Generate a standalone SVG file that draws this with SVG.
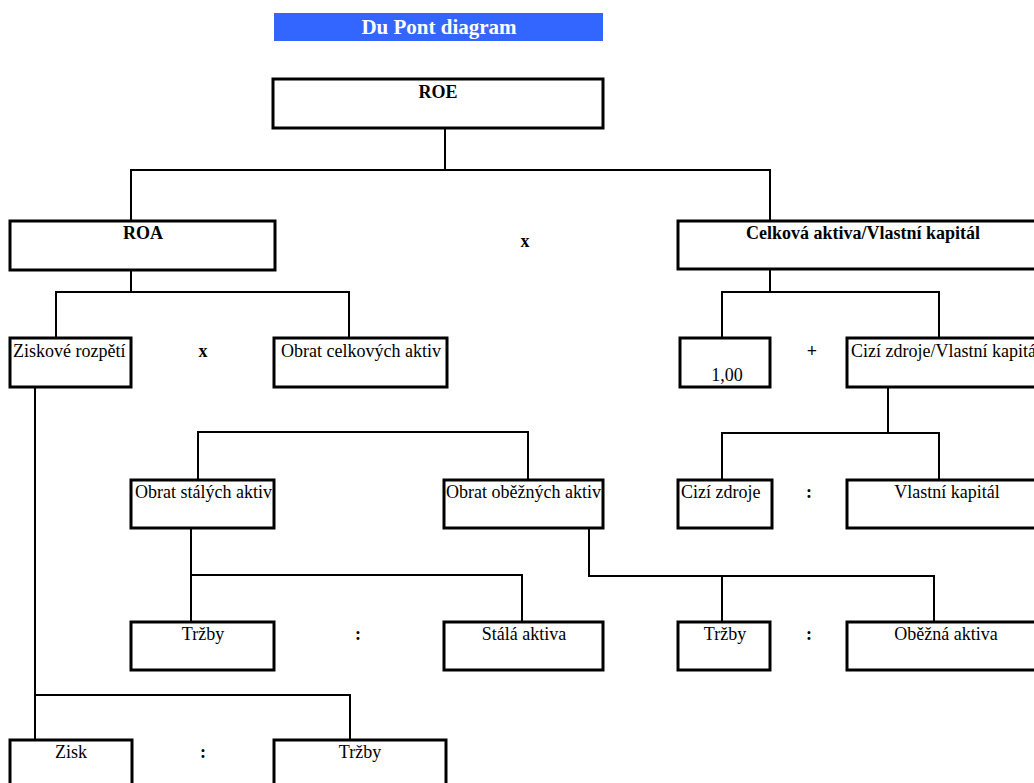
<svg xmlns="http://www.w3.org/2000/svg" width="1034" height="783" viewBox="0 0 1034 783">
<style>
.box{fill:#fff;stroke:#000;stroke-width:3}
.c{fill:none;stroke:#000;stroke-width:2}
text{font-family:"Liberation Serif","Times New Roman",serif;font-size:18px;fill:#000}
.b{font-weight:bold}
.m{text-anchor:middle}
.t{font-size:21px;font-weight:bold;fill:#fff;text-anchor:middle}
</style>
<rect width="1034" height="783" fill="#fff"/>
<g id="title">
<rect x="274" y="13" width="329" height="28" fill="#3366ff"/>
<text class="t" x="439" y="34">Du Pont diagram</text>
</g>
<g id="connectors">
<polyline class="c" points="445,128 445,170"/>
<polyline class="c" points="131,221 131,170 770,170 770,221"/>
<polyline class="c" points="131,270 131,292"/>
<polyline class="c" points="56,338 56,292 349,292 349,338"/>
<polyline class="c" points="770,269 770,292"/>
<polyline class="c" points="722,338 722,292 939,292 939,338"/>
<polyline class="c" points="888,387 888,433"/>
<polyline class="c" points="722,480 722,433 939,433 939,480"/>
<polyline class="c" points="198,480 198,432 528,432 528,480"/>
<polyline class="c" points="191,526 191,575"/>
<polyline class="c" points="191,622 191,575 522,575 522,622"/>
<polyline class="c" points="589,528 589,576 934,576 934,622"/>
<polyline class="c" points="722,576 722,622"/>
<polyline class="c" points="35,387 35,695"/>
<polyline class="c" points="35,740 35,695 350,695 350,740"/>
</g>
<g id="roe"><rect class="box" x="273" y="79" width="330" height="49"/><text class="b m" x="438" y="98">ROE</text></g>
<g id="roa"><rect class="box" x="10" y="221" width="265" height="49"/><text class="b m" x="143" y="239">ROA</text></g>
<g id="op-x1"><text class="b m" x="525" y="247">x</text></g>
<g id="celkova"><rect class="box" x="678" y="221" width="370" height="48"/><text class="b m" x="863" y="239">Celková aktiva/Vlastní kapitál</text></g>
<g id="ziskove"><rect class="box" x="10" y="338" width="121" height="49"/><text x="13" y="357">Ziskové rozpětí</text></g>
<g id="op-x2"><text class="b m" x="203" y="357">x</text></g>
<g id="obrat-celk"><rect class="box" x="274" y="338" width="173" height="49"/><text x="281" y="357">Obrat celkových aktiv</text></g>
<g id="one"><rect class="box" x="680" y="338" width="90" height="49"/><text class="m" x="727" y="381">1,00</text></g>
<g id="op-plus"><text class="b m" x="812" y="357">+</text></g>
<g id="cizi-vk"><rect class="box" x="847" y="338" width="200" height="49"/><text x="851" y="357">Cizí zdroje/Vlastní kapitál</text></g>
<g id="obrat-stal"><rect class="box" x="131" y="480" width="143" height="48"/><text x="135" y="498">Obrat stálých aktiv</text></g>
<g id="obrat-obez"><rect class="box" x="444" y="480" width="159" height="48"/><text x="446" y="498">Obrat oběžných aktiv</text></g>
<g id="cizi"><rect class="box" x="678" y="480" width="94" height="48"/><text x="681" y="498">Cizí zdroje</text></g>
<g id="op-c1"><text class="b m" x="809" y="498">:</text></g>
<g id="vlastni"><rect class="box" x="847" y="480" width="200" height="48"/><text class="m" x="947" y="498">Vlastní kapitál</text></g>
<g id="trzby1"><rect class="box" x="131" y="622" width="143" height="48"/><text class="m" x="203" y="640">Tržby</text></g>
<g id="op-c2"><text class="b m" x="358" y="640">:</text></g>
<g id="stala"><rect class="box" x="444" y="622" width="159" height="48"/><text class="m" x="524" y="640">Stálá aktiva</text></g>
<g id="trzby2"><rect class="box" x="678" y="622" width="92" height="48"/><text class="m" x="725" y="640">Tržby</text></g>
<g id="op-c3"><text class="b m" x="809" y="640">:</text></g>
<g id="obezna"><rect class="box" x="847" y="622" width="200" height="48"/><text class="m" x="946" y="640">Oběžná aktiva</text></g>
<g id="zisk"><rect class="box" x="10" y="740" width="122" height="60"/><text class="m" x="71" y="758">Zisk</text></g>
<g id="op-c4"><text class="b m" x="203" y="758">:</text></g>
<g id="trzby3"><rect class="box" x="274" y="740" width="172" height="60"/><text class="m" x="360" y="758">Tržby</text></g>
</svg>
